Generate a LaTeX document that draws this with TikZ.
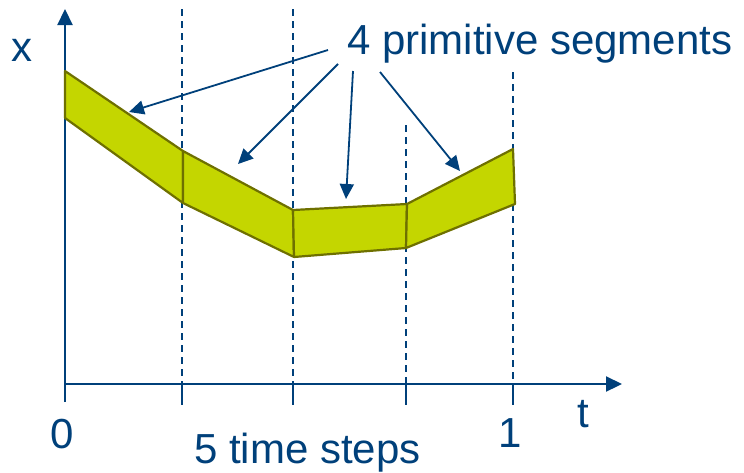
\documentclass[tikz,border=0pt]{standalone}
\usepackage{fontspec}
\setmainfont{Liberation Sans}
\usetikzlibrary{arrows.meta}
\definecolor{navy}{RGB}{0,64,122}
\definecolor{bandfill}{RGB}{196,214,0}
\definecolor{bandline}{RGB}{110,112,0}
\begin{document}
\begin{tikzpicture}[x=1pt,y=-1pt,
  axis/.style={draw=navy, line width=2.2pt, -{Triangle[length=16pt,width=15pt]}},
  gridline/.style={draw=navy, line width=2.2pt, dash pattern=on 7pt off 5pt},
  tickline/.style={draw=navy, line width=2.2pt},
  band/.style={fill=bandfill, draw=bandline, line width=2.2pt, line join=round},
  pointer/.style={draw=navy, line width=1.8pt, -{Triangle[length=15pt,width=14pt]}},
  lbl/.style={text=navy, font=\fontsize{42}{48}\selectfont, inner sep=0pt}]
\useasboundingbox (0,0) rectangle (744,472);
% axes
\coordinate (O) at (65,384);
\coordinate (Ybot) at (65,402);
\coordinate (Ytop) at (65,9);
\coordinate (Xend) at (622,384);
% grid lines
\coordinate (g1t) at (182,9);   \coordinate (g1b) at (182,384); \coordinate (k1) at (182,405);
\coordinate (g2t) at (293,9);   \coordinate (g2b) at (293,384); \coordinate (k2) at (293,405);
\coordinate (g3t) at (406,125); \coordinate (g3b) at (406,384); \coordinate (k3) at (406,405);
\coordinate (g4t) at (513,72);  \coordinate (g4b) at (513,384); \coordinate (k4) at (513,405);
\draw[gridline] (g1t) -- (g1b);
\draw[gridline] (g2t) -- (g2b);
\draw[gridline] (g3t) -- (g3b);
\draw[gridline] (g4t) -- (g4b);
\draw[tickline] (g1b) -- (k1);
\draw[tickline] (g2b) -- (k2);
\draw[tickline] (g3b) -- (k3);
\draw[tickline] (g4b) -- (k4);
\draw[axis] (Ybot) -- (Ytop);
\draw[axis] (O) -- (Xend);
% band corners
\coordinate (a0) at (65,71);   \coordinate (b0) at (65,118);
\coordinate (a1) at (183,151); \coordinate (b1) at (183,203);
\coordinate (a2) at (293,210); \coordinate (b2) at (294,257);
\coordinate (a3) at (407,204); \coordinate (b3) at (406,248);
\coordinate (a4) at (513,149); \coordinate (b4) at (515,204);
\draw[band] (a0) -- (a1) -- (b1) -- (b0) -- cycle;
\draw[band] (a1) -- (a2) -- (b2) -- (b1) -- cycle;
\draw[band] (a2) -- (a3) -- (b3) -- (b2) -- cycle;
\draw[band] (a3) -- (a4) -- (b4) -- (b3) -- cycle;
% labels
\node[lbl, anchor=base] (xl) at (21.5,61) {x};
\node[lbl, anchor=base west] (seg) at (347,54) {4 primitive segments};
\node[lbl, anchor=base] (zero) at (62,448) {0};
\node[lbl, anchor=base] (one) at (510,447) {1};
\node[lbl, anchor=base] (tl) at (583,427) {t};
\node[lbl, anchor=base west] (steps) at (194,463) {5 time steps};
% pointers
\coordinate (p1) at (328,50);  \coordinate (q1) at (129,112);
\coordinate (p2) at (338,64);  \coordinate (q2) at (238,164);
\coordinate (p3) at (353,71);  \coordinate (q3) at (346,199);
\coordinate (p4) at (380,72);  \coordinate (q4) at (460,171);
\draw[pointer] (p1) -- (q1);
\draw[pointer] (p2) -- (q2);
\draw[pointer] (p3) -- (q3);
\draw[pointer] (p4) -- (q4);
\end{tikzpicture}
\end{document}
